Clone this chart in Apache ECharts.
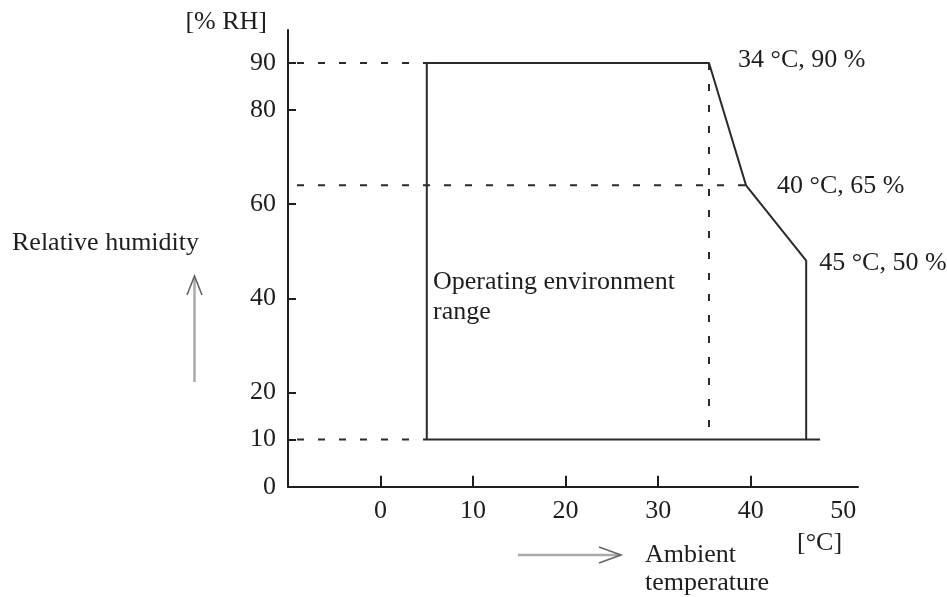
<!DOCTYPE html>
<html><head><meta charset="utf-8">
<script src="https://cdn.jsdelivr.net/npm/echarts@6/dist/echarts.min.js"></script>
<style>html,body{margin:0;padding:0;background:#fff}#c{width:947px;height:597px}</style>
</head><body><div id="c"></div>
<script>
// ---- data ----
const tempTickLabels = [0, 10, 20, 30, 40, 50];
const tempTickMarks = [0, 10, 20, 30, 40];
const rhTickLabels = [0, 10, 20, 40, 60, 80, 90];
const rhTickMarks = [10, 20, 40, 60, 80, 90];
// operating envelope outline (°C, %RH), as drawn
const envTemp = [47.5, 5, 5, 35.5, 39.5, 46, 46];
const envRH   = [10, 10, 90, 90, 64, 48, 10];
// labelled corners (indices into the envelope)
const cornerIdx = [3, 4, 5];
const cornerText = ['34 °C, 90 %', '40 °C, 65 %', '45 °C, 50 %'];
// guides: horizontal dashed lines run from the axis to these envelope points
const hGuideIdx = [2, 4, 1];
// vertical dashed guide below this envelope point down to the floor value
const vGuideIdx = 3;
const floorRH = 10;

const TEMP_MIN = -10, TEMP_MAX = 51.6, RH_MIN = 0, RH_MAX = 97;

const FONT = 'Liberation Serif';
const FS = 26;
const TXT = '#1e1e1e';
const LINE = '#2b2b2b';

const pt = i => [envTemp[i], envRH[i]];
const dashStyle = { color: LINE, width: 2, type: [7, 14], dashOffset: 12 };

const series = [];
series.push({
  type: 'line', data: envTemp.map((t, i) => pt(i)), symbol: 'none',
  lineStyle: { color: LINE, width: 2 }, z: 5, animation: false
});
hGuideIdx.forEach(i => {
  series.push({
    type: 'line', data: [[TEMP_MIN, envRH[i]], pt(i)], symbol: 'none',
    lineStyle: dashStyle, z: 4, animation: false
  });
});
series.push({
  type: 'line', data: [pt(vGuideIdx), [envTemp[vGuideIdx], floorRH]], symbol: 'none',
  lineStyle: Object.assign({}, dashStyle, { dashOffset: 0 }), z: 4, animation: false
});
const labelOffsets = [[24, -3], [26, 1], [8, 2]];
series.push({
  type: 'scatter', symbolSize: 0, animation: false, z: 6,
  itemStyle: { opacity: 1 },
  data: cornerIdx.map((idx, k) => ({
    value: pt(idx),
    label: {
      show: true, formatter: cornerText[k], position: 'right', offset: labelOffsets[k],
      fontFamily: FONT, fontSize: FS, color: TXT, opacity: 1
    }
  }))
});

const chart = echarts.init(document.getElementById('c'), null, { renderer: 'canvas' });
const txt = (x, y, text, extra) => ({
  type: 'text', x, y,
  style: Object.assign({ text, fontFamily: FONT, fontSize: FS, fill: TXT, verticalAlign: 'middle', align: 'left' }, extra || {})
});
chart.setOption({
  backgroundColor: '#fff',
  animation: false,
  grid: { left: 288, top: 30, right: 89, bottom: 110.3, outerBoundsMode: 'none', containLabel: false },
  xAxis: {
    type: 'value', min: TEMP_MIN, max: TEMP_MAX,
    axisLine: { show: true, onZero: false, lineStyle: { color: TXT, width: 2 } },
    axisTick: { show: true, inside: true, length: 11, customValues: tempTickMarks, lineStyle: { color: TXT, width: 2 } },
    axisLabel: { customValues: tempTickLabels, margin: 11, fontFamily: FONT, fontSize: FS, color: TXT },
    splitLine: { show: false }
  },
  yAxis: {
    type: 'value', min: RH_MIN, max: RH_MAX,
    name: '[% RH]', nameLocation: 'end', nameGap: 8,
    nameTextStyle: { fontFamily: FONT, fontSize: FS, color: TXT, align: 'right', verticalAlign: 'middle', padding: [0, 21, 0, 0] },
    axisLine: { show: true, onZero: false, lineStyle: { color: TXT, width: 2 } },
    axisTick: { show: true, inside: true, length: 8, customValues: rhTickMarks, lineStyle: { color: TXT, width: 2 } },
    axisLabel: { customValues: rhTickLabels, margin: 12, fontFamily: FONT, fontSize: FS, color: TXT },
    splitLine: { show: false }
  },
  series,
  graphic: [
    txt(12, 243, 'Relative humidity'),
    { type: 'line', shape: { x1: 194.5, y1: 382, x2: 194.5, y2: 278 }, style: { stroke: '#aaa', lineWidth: 2.5 } },
    { type: 'polyline', shape: { points: [[187, 295], [194.5, 276], [202, 295]] }, style: { stroke: '#666', lineWidth: 1.6, fill: null } },
    { type: 'line', shape: { x1: 518, y1: 555, x2: 620, y2: 555 }, style: { stroke: '#aaa', lineWidth: 2.5 } },
    { type: 'polyline', shape: { points: [[599, 547], [621, 555], [599, 563]] }, style: { stroke: '#666', lineWidth: 1.6, fill: null } },
    txt(645, 555, 'Ambient'),
    txt(645, 583, 'temperature'),
    txt(797, 543, '[°C]'),
    txt(433, 282, 'Operating environment'),
    txt(433, 312, 'range')
  ]
});
</script></body></html>
